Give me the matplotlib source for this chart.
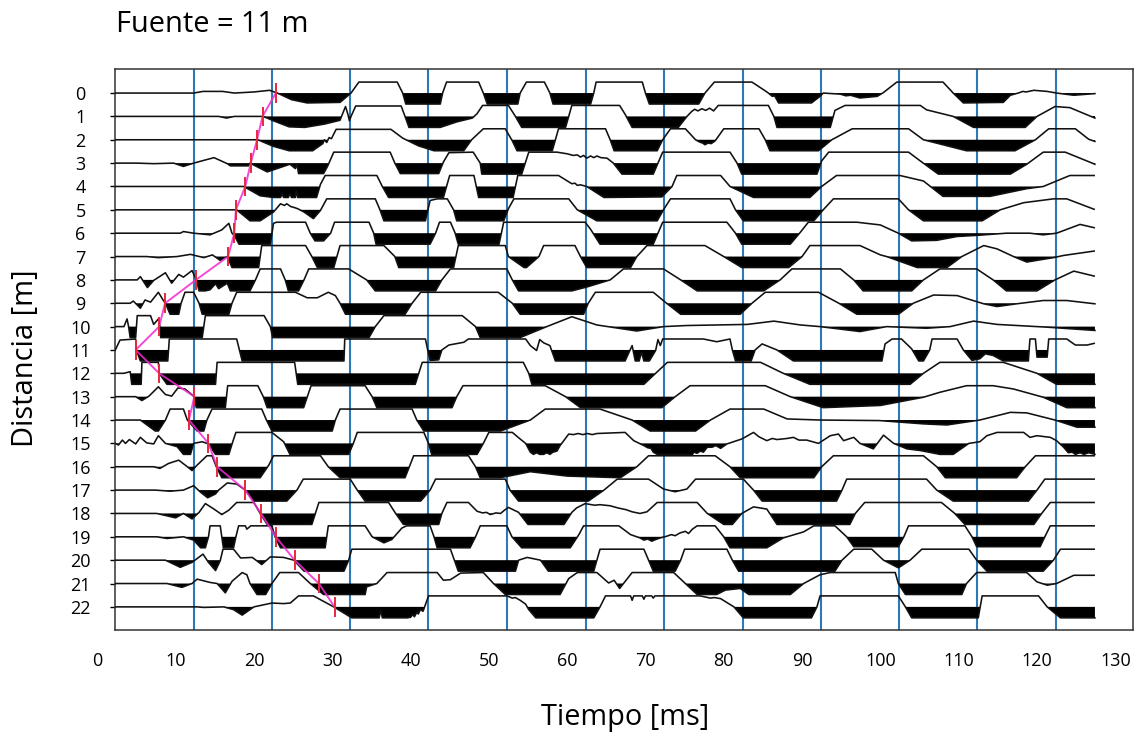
import numpy as np
import matplotlib
matplotlib.use("Agg")
import matplotlib.pyplot as plt

# traces : (temps ms, amplitude ecretee a +-1)
trace_0 = [(2.3,0),(12.3,0),(13.5,.15),(16,.15),(17.5,0),(20,.1),(22,.25),(23,0),(24.8,-.6),(26.8,-.9),(31,-.85),(32.4,0),(33.4,1),(38.3,1),(39,0),(39.4,-1),(43.8,-1),(44.1,0),(44.6,1),(48.7,1),(49.3,0),(49.8,-1),(53.7,-1),(54,0),(54.8,1),(57.1,1),(57.8,0),(58.2,-1),(63,-1),(63.4,0),(63.7,1),(69.6,1),(70,0),(70.5,-1),(76.8,-1),(77.6,0),(78.8,1),(83.6,1),(85.3,.2),(85.7,0),(86.2,-.3),(86.5,-.25),(87,-.9),(91.2,-.9),(92.3,-.3),(92.7,0),(94.9,-.1),(95.6,-.25),(96.2,-.2),(97.4,-.45),(99.6,-.3),(100.4,.05),(102.1,1),(108,1),(109.3,0),(110.6,-.9),(115.7,-.85),(116.6,-.2),(117.6,0),(118.2,.15),(118.6,.1),(119.6,.25),(121.3,.15),(122.5,0),(124.7,-.2),(127.4,-.05)]
trace_1 = [(2.3,0),(15.5,0),(16.5,-.15),(17.5,0),(21.2,0),(22.5,-.4),(24.5,-.95),(26.5,-1),(29,-.7),(31,-.35),(31.3,.2),(31.7,.9),(32,.2),(32.2,-.4),(32.4,0),(33,.95),(38.8,.95),(39.3,0),(39.8,-1),(43.8,-1),(45.9,-.5),(47.9,-.15),(48.5,.25),(49.2,1),(52.5,1),(53.4,0),(54.2,-1),(59.8,-1),(60.2,0),(60.6,1),(66.7,1),(67.4,.2),(68.3,-1),(74.2,-1),(75.3,0),(75.9,.45),(76.3,.65),(76.7,.5),(77.2,.7),(77.7,.55),(78.2,.75),(78.7,.5),(79.3,1),(85.7,1),(86.4,0),(86.8,-1),(93.6,-1),(94.2,.55),(95.5,1),(105.1,1),(105.9,.6),(109.3,0),(111.9,-1),(118.5,-1),(120,0),(122.3,.9),(124.2,.8),(127.4,-.15)]
trace_2 = [(2.3,0),(20.5,0),(22.5,-.6),(24.5,-1),(27.5,-1),(28.8,-.35),(29,0),(29.3,-.25),(29.6,.2),(29.9,.1),(30.5,.95),(37.5,.95),(39,.15),(41,-.55),(43,-1),(46.8,-1),(47.8,0),(49.3,1),(52.1,1),(53,-.1),(53.6,-1),(58.1,-1),(58.9,1),(64.9,1),(65.5,0),(66,-1),(71.5,-1),(72.2,0),(73.2,1),(75.1,1),(76.4,0),(76.9,-.2),(77.3,-.3),(77.6,-.45),(78,-.3),(78.4,-.35),(78.9,-.1),(80,1),(84.5,1),(85.3,0),(85.9,-1),(92.1,-1),(93.8,0),(96.4,1),(103.6,1),(105.5,0),(111,-1),(117.2,-1),(119.8,0),(121.5,1),(124.9,1),(126.6,.05),(127.4,-.15)]
trace_3 = [(2.3,0),(5.1,0),(7.2,-.05),(9.75,0),(11,-.3),(12.3,0),(14.9,.5),(16.6,-.05),(17,-.25),(19.3,-.25),(19.5,0),(21.7,-.8),(24.6,-.1),(25.3,-.5),(25.5,-.1),(25.7,-.95),(28.9,-.95),(29.4,-.3),(30.2,1),(37.4,1),(38,0),(38.7,-.95),(43.6,-.95),(44.2,.1),(44.9,.95),(48,1),(48.9,0),(49.1,-1),(54.2,-1),(55.1,1),(58.7,1),(60,.85),(60.8,.7),(61.3,.75),(61.7,.55),(62.1,.7),(62.5,.45),(63,.65),(63.4,.5),(63.8,.65),(64.3,.5),(65.1,.45),(65.9,0),(67,-1),(71,-1),(72.2,1),(80.8,1),(81.7,0),(82.3,-1),(91.9,-1),(92.5,.2),(93.4,1),(103.6,1),(105.1,.2),(107.4,-1),(116.6,-1),(118.7,-.1),(120.8,1),(123.6,1),(127.4,-.1)]
trace_4 = [(2.3,0),(18.7,0),(20.8,-.85),(22.5,-1),(23.4,-1),(23.6,-.7),(23.8,-1),(24.4,-1),(24.6,-.65),(24.8,-1),(25.3,-1),(25.4,-.4),(25.6,-1),(28,-1),(28.5,.2),(29.1,1),(35.7,1),(36.4,0),(37.2,-1),(44.2,-1),(45,1),(48.1,1),(48.4,0),(48.7,-1),(53.1,-1),(53.7,1),(58.9,1),(60.6,.25),(61,.3),(61.3,.1),(61.7,.15),(62.5,0),(64.7,-1),(72.1,-.95),(73.4,0),(74,1),(79.6,1),(80.8,0),(83.8,-1),(91,-1),(92.5,0),(94.4,1),(102.5,1),(105.5,.5),(108,-.9),(114,-.9),(118.7,-.2),(120.8,0),(124.2,1),(127.3,1)]
trace_5 = [(2.3,0),(17.8,0),(19.5,-1),(20.8,-1),(22.5,-.2),(23.4,.55),(23.9,.4),(24.2,.55),(24.7,.3),(25.2,.2),(25.6,.1),(26.4,-.2),(27.6,-.8),(28.5,-.05),(29.3,1),(35.5,1),(36.1,0),(36.6,-1),(41.9,-1),(42.5,.85),(43.4,1),(44.7,1),(45.5,0),(45.9,-1),(51.9,-1),(52.5,.1),(53.2,1),(60.2,1),(61.3,0),(63.8,-1),(71.5,-1),(72.3,0),(73.2,1),(80.8,1),(81.5,0),(82.5,-1),(91.5,-1),(92.7,0),(94,1),(102.3,1),(103.6,0),(105.5,-1),(113,-1),(115.3,0),(118.3,.65),(122.1,1),(123.8,1),(127.3,.05)]
trace_6 = [(2.3,0),(10.6,0),(11,.15),(12.3,0),(14.4,-.15),(15.9,.3),(16.8,.9),(17.2,0),(17.5,-.2),(18.1,-1),(22.1,-1),(22.5,.9),(22.9,1),(26.6,1),(27.2,0),(27.8,-.7),(28.9,-.7),(29.8,0),(30.3,1),(34.7,1),(35.3,0),(35.6,-1),(42.5,-1),(43.2,0),(43.7,1),(45.1,1),(45.7,0),(46.1,-1),(51.3,-1),(51.9,1),(62.3,1),(63,.35),(64.2,-1),(71,-1),(72.2,1),(80.4,1),(81.5,0),(82.3,-1),(88.5,-1),(89.8,.1),(90.8,1),(97,1),(100,.75),(102.3,0),(104,-.7),(107.2,-.65),(109.8,-.3),(112.3,-.2),(116.1,0),(119.1,0),(120.8,-.15),(122.5,0),(125.5,.8),(127.3,.5)]
trace_7 = [(2.3,0),(6.3,0),(7.8,-.1),(10.2,0),(11.9,.2),(13.6,-.1),(14.7,.15),(15.7,-.35),(16.6,0),(17.2,-1),(20.6,-1),(21,1),(26.6,1),(27.4,0),(28.1,-1),(30.2,-1),(31,1),(36.6,1),(38,0),(38.5,-1),(45.5,-1),(46.1,1),(52.1,1),(52.5,0),(54.5,-1),(54.8,-1),(56.4,0),(57,1),(61,1),(61.7,0),(62.5,-1),(68.1,-1),(68.9,0),(70.2,1),(77.6,1),(80,0),(82.3,-1),(88.3,-1),(90,0),(91,1),(97.4,1),(100,.15),(100.8,0),(104.7,-1),(108.5,-1),(110.4,0),(113.2,1),(114.9,.7),(117,0),(118.7,-.5),(122.1,-.1),(123.4,.1),(127.3,.5)]
trace_8 = [(2.3,0),(5.1,0),(5.5,.3),(6.4,-.7),(7.2,-.05),(8.7,.65),(9.5,-.3),(10.4,.5),(11,.25),(12.1,.85),(12.65,0),(13,-1),(13.8,-1),(14.4,-.9),(15.1,-.35),(15.5,-.8),(16.6,-.3),(17,-1),(19.5,-1),(20.2,0),(20.8,1),(23.4,1),(24,0),(24.4,-1),(25.7,-1),(26.4,0),(27,1),(32.1,1),(34.4,0),(35.5,-1),(43.2,-1),(44,0),(45.1,1),(52.3,1),(53,0),(53.8,-1),(60.6,-1),(62.5,-.65),(65.5,0),(67.2,1),(72.3,1),(74.5,0),(76.6,-1),(85.1,-1),(87.2,0),(88.7,1),(94.9,1),(96.6,0),(97.8,-1),(104,-1),(105.5,0),(107.6,1),(112.3,1),(114.4,0),(116.1,-1),(120,-1),(122.3,0),(124.7,.8),(127.3,.35)]
trace_9 = [(2.3,0),(4.2,0),(4.6,.2),(5.5,-.45),(6.1,.3),(6.8,.1),(7.8,1),(8.4,.3),(8.7,0),(9.3,-1),(10.4,-1),(10.7,0),(11.2,1),(12.3,1),(13,0),(13.4,-1),(16.8,-1),(17.2,0),(17.8,1),(25.3,1),(26.8,.5),(28.1,.5),(29.5,1),(30.4,.7),(31,0),(31.7,-1),(39.3,-1),(40.2,0),(41.3,1),(51.2,1),(53,0),(54,-1),(62.1,-1),(62.7,0),(63.6,1),(71,1),(72.7,0),(74.5,-1),(82.1,-1),(83.6,0),(85.3,1),(92.1,1),(94.7,0),(97,-1),(102.3,-1),(104.2,0),(106.8,.75),(109.8,.7),(113.2,-.05),(114.9,-.3),(117.4,-.05),(120.8,.25),(123.8,.25),(127.4,-.05)]
trace_10 = [(2.3,0),(3.4,0),(3.8,.7),(4,0),(4.2,-1),(4.9,-1),(5.1,1),(6.8,1),(7.2,.2),(7.8,.7),(8,0),(8.1,-1),(13.4,-1),(13.8,1),(21.3,1),(22.1,0),(22.4,-1),(34.7,-1),(35.5,0),(36.6,1),(46.6,1),(48.3,0),(48.9,-1),(54,-1),(57.4,0),(60.6,.9),(63.8,.15),(68.9,-.4),(72.3,0),(75.3,.1),(83,.2),(86.4,.5),(89.8,.15),(92.3,0),(97.4,-.45),(100.8,0),(105.9,-.15),(108.9,0),(111.9,.5),(114.9,.2),(121.3,-.05),(127.4,-.35)]
trace_11 = [(2.3,0),(2.9,.9),(4.9,1),(5,0),(5.5,-1),(9,-1),(9.2,1),(17.8,1),(18.5,-1),(31.5,-1),(31.6,1),(41.9,1),(42.2,0),(42.5,-.95),(43.6,-.9),(44,0),(44.9,.45),(46.8,.7),(47.4,1),(54.7,1),(55.3,.4),(56.1,-.05),(56.5,.95),(57,.65),(57.8,.4),(58.5,-1),(67.4,-1),(68.3,.4),(68.7,-1),(69.2,-1),(69.5,-.2),(69.8,-1),(70.5,-1),(71.3,-.05),(71.6,.95),(71.9,.4),(72.2,1),(77.4,1),(79.1,.75),(80.8,1),(81.1,0),(81.5,-1),(83.5,-1),(84,0),(84.9,.55),(86.8,0),(88.9,-1),(100.2,-1),(100.6,.55),(101.5,1),(102.7,1),(104,.1),(104.9,-1),(105.5,-1),(106.3,0),(106.6,1),(109.8,1),(110.6,0),(111.7,-.95),(112.7,-.8),(113.4,-.35),(114.4,-.5),(115.7,-1),(118.9,-1),(119.1,1),(119.8,1),(120,-.65),(121.3,-.65),(121.5,1),(123.8,1),(124.9,.45),(126.4,.45),(127.3,.6)]
trace_12 = [(2.3,0),(3.4,0),(4.2,.15),(4.4,-1),(5.6,-1),(5.7,1),(7.8,1),(7.9,0),(8.9,-1),(15.1,-1),(15.3,1),(25.2,1),(25.6,-1),(40.6,-1),(41.5,1),(54.4,1),(55.1,0),(55.5,-1),(69.8,-1),(71.3,0),(72.8,1),(84.7,1),(87.6,0),(91,-1),(103.8,-1),(105.5,0),(107.6,1),(115.7,1),(120,0),(122.5,-1),(127.4,-1)]
trace_13 = [(2.3,0),(4.9,0),(5.7,-.35),(6.6,.05),(7.8,.9),(8.7,.2),(9.5,.05),(10.3,.8),(11.2,.7),(12.3,.05),(12.65,-1),(16.35,-1),(16.65,1),(20.5,1),(21.2,0),(21.7,-1),(26.35,-1),(27.3,1),(34.2,1),(35.1,0),(35.7,-1),(45.3,-1),(45.9,0),(46.7,1),(57.2,1),(59.8,0),(61.7,-1),(72.1,-1),(73.8,0),(75.7,1),(85.3,1),(88.5,0),(92.7,-1),(100,-.8),(105.5,-.05),(107.6,.4),(111,1),(114.4,1),(117,.7),(120.8,-.05),(123.8,-1),(127.4,-1)]
trace_14 = [(2.3,0),(5.5,0),(7.4,-1),(7.8,-1),(8.7,0),(9.3,1),(11,1),(11.5,0),(12.75,-1),(13.6,-1),(14,0),(14.65,1),(21,1),(21.6,0),(22.3,-1),(30,-1),(30.4,0),(31,1),(40.2,1),(40.8,0),(41.7,-1),(51.5,-1),(55.3,0),(57.2,1),(64.2,1),(68.3,0),(70.6,-1),(76.4,-1),(78.3,0),(80.8,1),(85.1,1),(88.1,.1),(92.3,0),(99.9,-.05),(105.5,-.35),(108.5,-.45),(112.7,0),(116.6,.7),(118.7,.65),(122.3,0),(125.1,-.65),(127.4,-.65)]
trace_15 = [(2.3,0),(2.7,-.15),(3.2,.3),(3.6,0),(4.1,.35),(4.9,-.05),(5.5,.55),(6.3,.05),(7.2,-.05),(7.8,.7),(8.7,0),(10.2,-.3),(11,-1),(11.9,-1),(12.3,0),(13.4,.15),(14.2,-.05),(15.1,-1),(16.8,-1),(17.3,.15),(17.7,1),(22.3,1),(23,.6),(23.8,.15),(24.6,-1),(32.1,-1),(32.7,0),(33.2,1),(41.7,1),(42.3,0),(42.7,-1),(48.5,-1),(49.3,0),(50,1),(53,1),(54,.4),(54.7,0),(55.3,-.8),(55.7,-1),(56.1,-.85),(56.5,-1),(57,-1),(57.4,-.85),(57.8,-1),(58.2,-.8),(58.7,-.7),(59.1,-.2),(60.2,.85),(60.8,.8),(61.4,.9),(62,.8),(62.6,.9),(63.2,.8),(63.8,.9),(67.4,1),(68.5,.25),(69.8,-.2),(70.3,-.4),(70.7,-.45),(71,-.8),(71.5,-1),(76,-1),(76.2,-.8),(76.6,-.9),(77,-.7),(77.4,-.8),(77.9,-.35),(78.5,-.35),(79,-.2),(79.6,-.45),(80.4,-.05),(82.3,.4),(83.8,1),(84.5,.6),(85.5,.25),(86.2,.45),(86.8,.35),(88.1,.45),(88.9,.55),(89.6,.3),(90.6,.3),(92.1,0),(93.6,.7),(94.65,.85),(95.3,.25),(96.6,.55),(97.4,0),(99.1,-.5),(100.4,.75),(101.7,0),(103.4,-.5),(105.1,-.65),(107.6,-1),(109.3,-1),(111.3,0),(112.7,.15),(113.6,.7),(114.9,1),(118.3,1),(119.1,.55),(120,.7),(121.7,.55),(122.5,.25),(123.4,-.35),(124,-.85),(124.5,-.8),(124.9,-1),(125.5,-.85),(126,-1),(126.6,-.85),(127.4,-1)]
trace_16 = [(2.3,0),(7.2,0),(8,-.15),(9.1,.3),(10.4,.6),(11.5,0),(12.1,-.35),(12.75,.15),(14,1),(14.65,1),(15.2,0),(15.9,-1),(20.8,-1),(21.9,.15),(22.5,1),(28.5,1),(29.5,0),(31,-1),(39.3,-1),(40.4,1),(47.4,1),(48.3,0),(48.9,-1),(51.5,-1),(55.3,-.45),(60,-.85),(66.8,-1),(68.9,0),(70.4,1),(78.9,1),(80.8,0),(82.1,-1),(91.5,-1),(92.5,0),(94,1),(105.5,1),(107.2,0),(108.3,-1),(117.4,-1),(118.5,0),(119.8,1),(127.3,1)]
trace_17 = [(2.3,0),(7.4,0),(9.3,-.1),(11,0),(12.3,.4),(13.2,-.2),(14.1,-.7),(15.1,-.35),(15.5,0),(16.6,.65),(17.8,.55),(18.9,0),(20,-1),(24.2,-1),(25.5,0),(26.3,1),(32.3,1),(33.2,0),(34.2,-1),(41.3,-1),(42.5,0),(43.2,1),(52.1,1),(52.7,0),(53.8,-1),(62.7,-1),(64.7,0),(66.4,1),(70.4,1),(72.3,.1),(73.8,-.15),(75.3,.1),(76.4,1),(82.5,1),(83.8,0),(84.9,-1),(94.4,-1),(95.1,0),(95.7,1),(105.9,1),(107.2,0),(109.3,-1),(118.9,-1),(120,0),(121,1),(127.3,1)]
trace_18 = [(2.3,0),(7.6,0),(10,-.4),(11,0),(12.1,-.5),(13,.1),(13.8,.9),(14.9,.4),(15.9,-.1),(16.8,.3),(17.8,1),(20,1),(20.8,0),(21.7,-1),(27.4,-1),(27.85,0),(28.3,1),(37.2,1),(38.1,0),(39.1,-1),(43.6,-1),(44,0),(44.65,1),(47.4,1),(48.5,.2),(49.2,.05),(49.7,.1),(50.2,-.1),(50.9,.05),(51.5,0),(52,.3),(52.5,.55),(53.8,.1),(55,-1),(59.6,-1),(60.6,.1),(61.2,.5),(62.3,.9),(63.5,.75),(64.2,.8),(65.5,.7),(66.5,.5),(67.5,.35),(68.3,.15),(69.3,0),(70.2,.15),(71.5,1),(76.6,1),(77.9,0),(80,-1),(81.1,-1),(82.3,0),(83.8,.6),(85.5,.4),(86.8,-1),(96.1,-1),(96.8,0),(98,1),(107.8,1),(109.5,0),(110.8,-1),(119.6,-1),(120.6,0),(121.7,1),(127.3,1)]
trace_19 = [(2.3,0),(7.6,0),(8.9,-.15),(11,0),(12.3,-.3),(13.2,-1),(13.8,-1),(14.2,0),(14.4,1),(15.7,1),(15.9,0),(16.1,-1),(17.4,-1),(17.7,0),(18.05,1),(18.9,1),(19.1,.7),(19.6,1),(22.3,1),(22.7,0),(23.4,-1),(29.1,-1),(29.5,1),(34.2,1),(35.1,0),(36.6,-.55),(37.6,-.25),(38.9,.8),(39.5,1),(42.5,1),(43,0),(43.4,-1),(47.6,-1),(48.3,0),(48.9,1),(52.3,1),(52.95,0),(54.2,-1),(60.4,-1),(61.5,.2),(62.1,1),(66.6,1),(68.1,.2),(69.3,-.1),(69.8,-.3),(70.3,-.2),(70.8,-.4),(71.3,-.25),(71.9,-.1),(72.7,.05),(73.3,.2),(73.8,.1),(74.4,.35),(75.1,.5),(75.5,.3),(76,.7),(76.6,1),(78.9,1),(80,0),(80.8,-1),(85.5,-1),(87.6,-.1),(90.2,.45),(91.5,1),(94.2,1),(95.7,0),(96.6,-.9),(102.3,-.9),(103,0),(103.6,1),(110.8,1),(111.7,0),(112.3,-.9),(120.4,-.9),(121,0),(121.7,1),(127.3,1)]
trace_20 = [(2.3,0),(8.7,0),(10.6,-.65),(12.1,-.2),(13.5,.55),(14.2,-.2),(15.1,-.95),(15.7,-.05),(16.05,1),(17.4,1),(18.3,.2),(19.8,.25),(21,-.4),(22.1,.3),(23.8,.25),(25.1,0),(26.4,-1),(31.5,-1),(32.1,0),(32.5,1),(45.1,1),(45.6,0),(46.1,-1),(53.4,-1),(53.8,0),(54.9,.25),(56.6,0),(57.6,-1),(63.4,-1),(64.2,1),(69.8,1),(70.4,0),(71,-1),(73.8,-1),(74.5,0),(75,1),(80.4,1),(81.1,0),(81.9,-1),(94.2,-1),(95.1,0),(96.6,1),(98.9,1),(100.4,0),(102.3,-.7),(103.8,0),(105.3,1),(111.3,1),(112.3,0),(113.6,-1),(120.8,-1),(122.1,0),(123,1),(127.3,1)]
trace_21 = [(2.3,0),(8.9,0),(10.8,-.35),(12.1,0),(12.75,.4),(14.4,.1),(15.3,0),(16.35,-.85),(17.2,.2),(18.5,1),(19.1,.8),(19.5,0),(20.4,-1),(21.5,-1),(22.3,0),(23.3,1),(25.7,1),(27.2,0),(28.9,-1),(34.2,-1),(34.4,-.3),(35.7,0),(37,1),(43.4,1),(44.2,.3),(45.1,.35),(46.4,.95),(49.3,1),(50.6,0),(52.1,-1),(59.1,-1),(60.2,.45),(61.3,1),(63.8,1),(65.3,.05),(66,.3),(66.7,-.45),(68.3,1),(73.6,1),(75.1,0),(76.6,-1),(79.1,-1),(80.2,-.6),(82.1,-.45),(83.2,-1),(88.5,-1),(90.2,0),(92.3,.8),(93.6,1),(101.9,1),(102.3,0),(103.2,-1),(110.4,-1),(111,0),(112.3,1),(118.7,1),(120,.15),(121.3,-.15),(122.5,0),(124.7,.75),(127.3,.75)]
trace_22 = [(2.3,0),(12.75,0),(13.6,-.05),(16.15,0),(17.4,-.25),(18.5,-.75),(20,0),(22.3,.35),(23.8,.3),(24.65,.35),(25.7,1),(27.6,1),(30.2,0),(32.5,-1),(36,-1),(36.2,-.3),(36.4,-1),(39.55,-1),(40,-.95),(40.3,-.7),(40.5,-.9),(40.8,-.5),(41,-.65),(41.25,-.25),(41.6,-.4),(41.9,.2),(42.3,1),(52.3,1),(53,.8),(53.4,.85),(54,.6),(54.4,.4),(54.7,.25),(55.1,-.25),(56,-1),(63.4,-1),(64.2,0),(64.9,1),(68.1,1),(68.3,.6),(68.5,1),(69.6,1),(69.8,.7),(70,1),(70.8,1),(71,.8),(71.2,1),(77,1),(78.3,.8),(78.8,.85),(79.6,.75),(81.3,0),(82.5,-1),(91.2,-1),(91.9,0),(92.3,1),(102.3,1),(103.2,0),(104,-1),(112.5,-1),(113,1),(120.2,1),(121.3,0),(123,-1),(127.4,-1)]

traces = [trace_0, trace_1, trace_2, trace_3, trace_4, trace_5, trace_6, trace_7,
          trace_8, trace_9, trace_10, trace_11, trace_12, trace_13, trace_14, trace_15,
          trace_16, trace_17, trace_18, trace_19, trace_20, trace_21, trace_22]

# premieres arrivees
picks = [22.8, 21.1, 20.4, 19.6, 18.9, 17.7, 17.5, 16.7, 12.6, 8.65, 7.9, 4.9,
         7.9, 12.4, 11.7, 14.2, 15.3, 18.9, 20.9, 22.8, 25.2, 28.3, 30.3]
distances = list(range(23))
grid_times = [12.3, 22.3, 32.3, 42.2, 52.3, 62.4, 72.4, 82.4, 92.4, 102.4, 112.4, 122.4]
time_labels = list(range(0, 131, 10))

plt.rcParams["font.family"] = "Open Sans"
fig = plt.figure(figsize=(11.34, 7.35), dpi=100)
ax = fig.add_axes([115.3 / 1134, 1 - 630 / 735, 1018 / 1134, 561 / 735])

for t in grid_times:
    ax.axvline(t, color="#2f78b7", lw=1.5, zorder=1)

amp = 0.47
for d, tr in zip(distances, traces):
    t, a = np.array(tr).T
    ax.fill_between(t, d, d - amp * a, where=a <= 0, interpolate=True, color="black", lw=0, zorder=2)
    ax.plot(t, d - amp * a, color="#111111", lw=1.15, zorder=3)

ax.plot(picks, distances, color="#f02bd0", lw=1.4, alpha=0.85, zorder=4)
ax.vlines(picks, np.array(distances) - 0.42, np.array(distances) + 0.42, color="#e8283c", lw=1.4, zorder=5)

ax.set_xlim(2.3, 132.3)
ax.set_ylim(22.99, -1.03)
ax.set_xticks([])
ax.set_yticks(distances)
ax.tick_params(axis="y", length=3.5, width=1.0, pad=21.5, labelsize=13)
for lab in ax.get_yticklabels():
    lab.set_ha("center")
for s in ax.spines.values():
    s.set_linewidth(1.1)
    s.set_color("#333333")

for v in time_labels:
    ax.text(v, -0.055, str(v), transform=ax.get_xaxis_transform(), ha="center", va="center",
            fontsize=13, clip_on=False)

fig.text(116 / 1134, 1 - 24 / 735, "Fuente = 11 m", fontsize=20.9, ha="left", va="center")
fig.text(26 / 1134, 1 - 358 / 735, "Distancia [m]", fontsize=20.9, rotation=90, ha="center", va="center")
fig.text(625 / 1134, 1 - 717 / 735, "Tiempo [ms]", fontsize=20.8, ha="center", va="center")

fig.savefig("out.png", dpi=100)
